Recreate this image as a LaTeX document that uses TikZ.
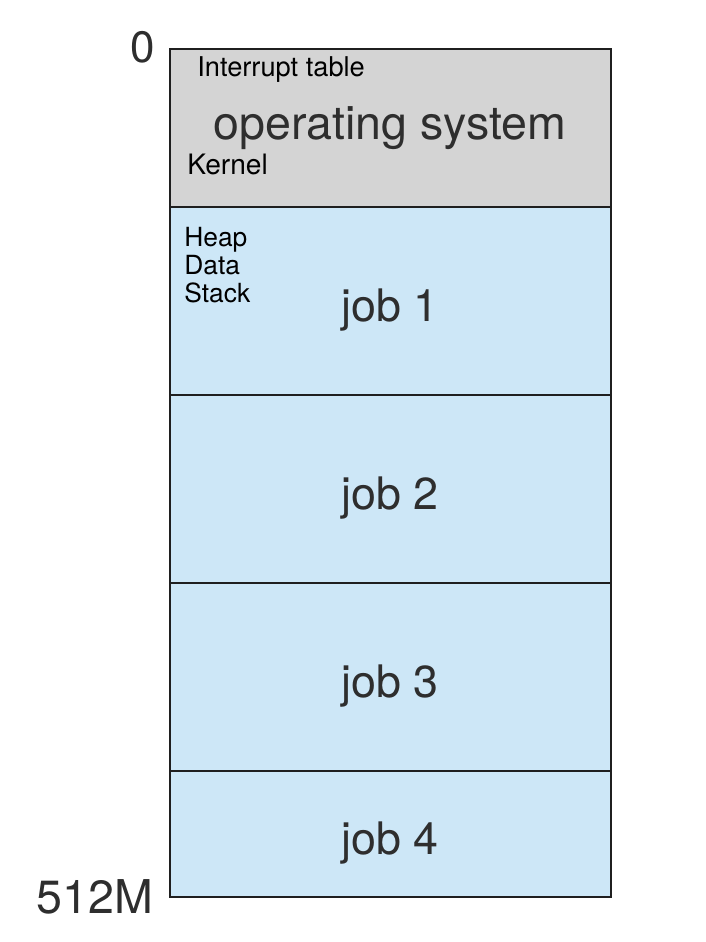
\documentclass[tikz,border=0pt]{standalone}
\usepackage{fontspec}
\setmainfont{TeX Gyre Heros}
\usetikzlibrary{positioning}
\definecolor{osgray}{HTML}{D4D4D4}
\definecolor{jobblue}{HTML}{CDE7F7}
\definecolor{labelgray}{HTML}{2E2E2E}
\pgfdeclarelayer{nodelayer}
\pgfdeclarelayer{edgelayer}
\pgfsetlayers{edgelayer,nodelayer,main}
\tikzstyle{none}=[inner sep=0pt]
\tikzset{region/.style={draw=black!88, line width=1.1pt}}
\tikzset{big/.style={inner sep=0pt, anchor=base, text=labelgray, font=\fontsize{25.5}{26}\selectfont}}
\tikzset{small/.style={inner sep=0pt, anchor=base west, font=\fontsize{15.5}{16}\selectfont}}

\begin{document}
\begin{tikzpicture}
        \useasboundingbox (0,0) rectangle (14.12,18.84);
        \begin{pgfonlayer}{edgelayer}
            \filldraw [region, fill=osgray] (3.4, 14.7) rectangle (12.22, 17.86);
            \filldraw [region, fill=jobblue] (3.4, 10.94) rectangle (12.22, 14.7);
            \filldraw [region, fill=jobblue] (3.4, 7.18) rectangle (12.22, 10.94);
            \filldraw [region, fill=jobblue] (3.4, 3.42) rectangle (12.22, 7.18);
            \filldraw [region, fill=jobblue] (3.4, 0.9) rectangle (12.22, 3.42);
        \end{pgfonlayer}
        \begin{pgfonlayer}{nodelayer}
            \node [style=big, font=\fontsize{25}{26}\selectfont] (0) at (2.85, 17.58) {0};
            \node [style=big, font=\fontsize{26.5}{27}\selectfont] (1) at (1.9, 0.58) {512M};
            \node [style=small] (2) at (3.94, 17.3) {Interrupt table};
            \node [style=big, font=\fontsize{26.5}{27}\selectfont] (3) at (7.8, 16.04) {operating system};
            \node [style=small, font=\fontsize{16}{16}\selectfont] (4) at (3.74, 15.34) {Kernel};
            \node [style=small, font=\fontsize{15}{15}\selectfont] (5) at (3.68, 13.9) {Heap};
            \node [style=small, font=\fontsize{15}{15}\selectfont] (6) at (3.68, 13.34) {Data};
            \node [style=small, font=\fontsize{15}{15}\selectfont] (7) at (3.68, 12.78) {Stack};
            \node [style=big] (8) at (7.8, 12.4) {job 1};
            \node [style=big] (9) at (7.8, 8.64) {job 2};
            \node [style=big] (10) at (7.8, 4.88) {job 3};
            \node [style=big] (11) at (7.8, 1.74) {job 4};
        \end{pgfonlayer}
    \end{tikzpicture}
\end{document}
